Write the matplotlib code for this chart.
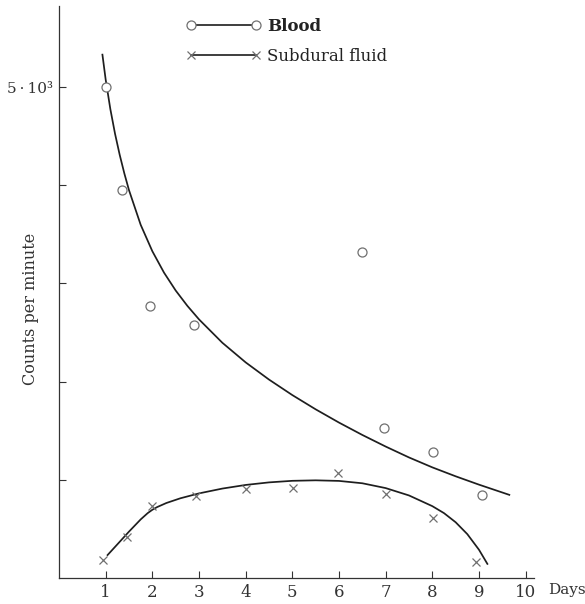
import matplotlib
matplotlib.use('Agg')
import matplotlib.pyplot as plt

# measured points (days, counts per minute)
blood_days = [1.0, 1.34, 1.94, 2.90, 6.50, 6.97, 8.02, 9.07]
blood_counts = [5000, 3950, 2770, 2580, 3320, 1530, 1280, 850]

fluid_days = [0.95, 1.45, 2.0, 2.94, 4.0, 5.02, 5.98, 7.01, 8.02, 8.94]
fluid_counts = [180, 420, 730, 840, 910, 920, 1070, 860, 610, 160]

# hand-drawn fitted curves
blood_curve_days = [0.93, 1.0, 1.1, 1.2, 1.3, 1.4, 1.5, 1.75, 2.0, 2.25, 2.5,
                    2.75, 3.0, 3.5, 4.0, 4.5, 5.0, 5.5, 6.0, 6.5, 7.0, 7.5,
                    8.0, 8.5, 9.0, 9.65]
blood_curve_counts = [5330, 5075, 4775, 4525, 4310, 4120, 3949, 3597, 3328, 3110, 2928,
                      2772, 2634, 2396, 2196, 2021, 1863, 1718, 1583, 1457, 1339, 1228,
                      1127, 1036, 951, 847]

fluid_curve_days = [1.04, 1.25, 1.5, 1.75, 1.9, 2.0, 2.1, 2.3, 2.6, 3.0, 3.5, 4.0,
                    4.5, 5.0, 5.5, 6.0, 6.5, 7.0, 7.5, 8.0, 8.25, 8.5, 8.75, 9.0, 9.18]
fluid_curve_counts = [234, 343, 473, 597, 661, 695, 722, 764, 812, 862, 911, 948,
                      974, 990, 995, 989, 965, 916, 841, 732, 661, 568, 447, 288, 144]

x_ticks = [1, 2, 3, 4, 5, 6, 7, 8, 9, 10]
y_ticks = [1000, 2000, 3000, 4000, 5000]
y_tick_labels = ['', '', '', '', '5\u2009·\u200910³']

plt.rcParams['font.family'] = ['DejaVu Serif']

fig = plt.figure(figsize=(5.85, 6.04), dpi=100)
ax = fig.add_axes([0.1009, 0.043, 0.812, 0.947])

line_col = '#1e1e1e'
mark_col = '#707070'
text_col = '#333333'

ax.plot(blood_curve_days, blood_curve_counts, color=line_col, linewidth=1.25)
ax.plot(fluid_curve_days, fluid_curve_counts, color=line_col, linewidth=1.25)

ax.plot(blood_days, blood_counts, linestyle='none', marker='o', markersize=6.5,
        markerfacecolor='white', markeredgecolor=mark_col, markeredgewidth=0.9)
ax.plot(fluid_days, fluid_counts, linestyle='none', marker='x', markersize=6,
        color=mark_col, markeredgewidth=0.9)

# legend entries: line with a marker at each end
h1, = ax.plot([], [], color=line_col, linewidth=1.2, marker='o', markersize=6.5,
              markerfacecolor='white', markeredgecolor=mark_col, markeredgewidth=0.9)
h2, = ax.plot([], [], color=line_col, linewidth=1.2, marker='x', markersize=6,
              markeredgecolor=mark_col, markeredgewidth=0.9)
leg = ax.legend([h1, h2], ['Blood', 'Subdural fluid'], numpoints=2, frameon=False,
                loc='upper left', bbox_to_anchor=(0.318, 0.971),
                bbox_transform=fig.transFigure, borderaxespad=0, borderpad=0,
                handlelength=4.5, handletextpad=0.34, labelspacing=0.81, fontsize=12)
leg.get_texts()[0].set_fontweight('bold')
for t in leg.get_texts():
    t.set_color('#222222')

ax.set_xlim(0, 10.18)
ax.set_ylim(0, 5825)

for side in ['top', 'right']:
    ax.spines[side].set_visible(False)
for side in ['left', 'bottom']:
    ax.spines[side].set_linewidth(0.9)
    ax.spines[side].set_color('#333333')

ax.set_xticks(x_ticks)
ax.set_xticklabels([str(t) for t in x_ticks])
ax.set_yticks(y_ticks)
ax.set_yticklabels(y_tick_labels)
ax.tick_params(axis='both', direction='in', length=5, width=0.8, color='#333333',
               labelcolor=text_col)
ax.tick_params(axis='x', pad=4, labelsize=12)
ax.tick_params(axis='y', pad=4, labelsize=11)

ax.set_ylabel('Counts per minute', fontsize=11.5, color=text_col, va='center')
ax.yaxis.set_label_coords(-0.061, 0.47)
ax.set_xlabel('Days', fontsize=11, color=text_col, ha='left', va='center')
ax.xaxis.set_label_coords(1.029, -0.021)

fig.savefig('out.png', dpi=100, facecolor='white')
